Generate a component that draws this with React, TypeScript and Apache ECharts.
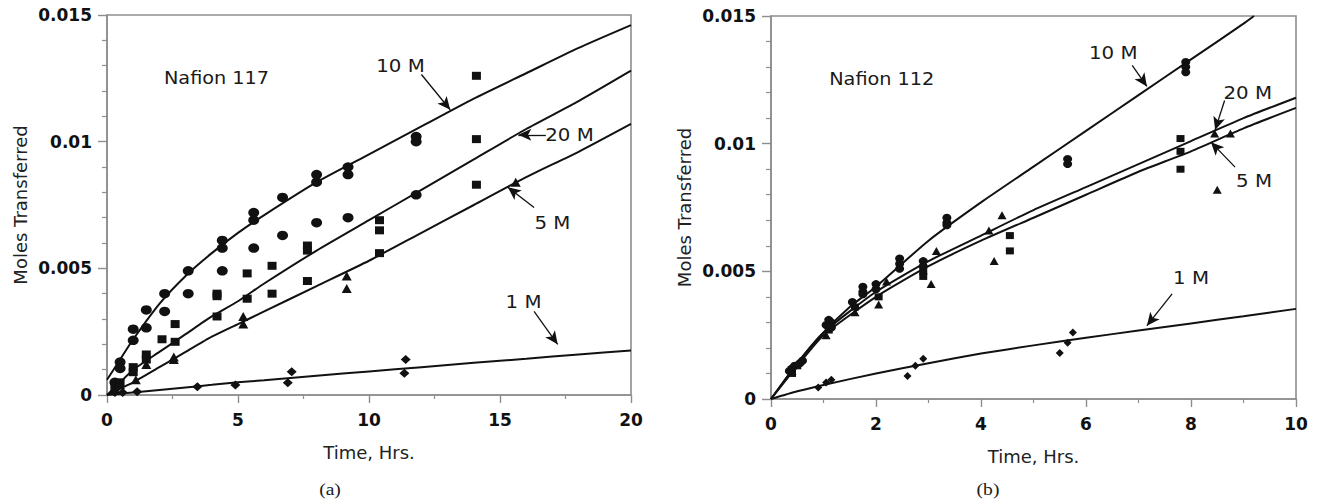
import React, { useEffect, useRef } from "react";
import * as echarts from "echarts";

// ---------- Chart (a): Nafion 117 ----------
const timeA = [0, 0.5, 1, 2, 3, 4, 5, 6, 8, 10, 12, 14, 16, 18, 20];
const fitA10M = [0.0006, 0.0014, 0.0022, 0.0036, 0.0047, 0.0056, 0.0064, 0.0071, 0.0084, 0.0095, 0.0106, 0.0117, 0.0127, 0.0137, 0.0146];
const fitA20M = [0, 0.0005, 0.001, 0.0017, 0.0024, 0.0031, 0.0037, 0.0044, 0.0057, 0.0069, 0.0081, 0.0093, 0.0105, 0.0116, 0.0128];
const fitA5M = [0, 0.00025, 0.0005, 0.0011, 0.0017, 0.0023, 0.0028, 0.0033, 0.0043, 0.0053, 0.0064, 0.0075, 0.0086, 0.0096, 0.0107];
const fitA1M = [0, 0.00005, 0.0001, 0.0002, 0.0003, 0.0004, 0.0005, 0.00058, 0.00076, 0.00093, 0.0011, 0.00127, 0.00143, 0.0016, 0.00176];

const circlesA = [
  [0.3, 0.0005], [0.5, 0.0013], [0.5, 0.00105], [1.0, 0.0026], [1.0, 0.00216], [1.5, 0.00336], [1.5, 0.00265],
  [2.2, 0.004], [2.2, 0.0033], [3.1, 0.0049], [4.4, 0.0061], [4.4, 0.0058], [5.6, 0.0072], [5.6, 0.0069],
  [6.7, 0.0078], [8.0, 0.0087], [8.0, 0.0084], [9.2, 0.009], [9.2, 0.0087], [11.8, 0.0102], [11.8, 0.01],
  [3.1, 0.004], [4.4, 0.0049], [5.6, 0.0058], [6.7, 0.0063], [8.0, 0.0068], [9.2, 0.007], [11.8, 0.0079],
];
const squaresA = [
  [0.3, 0.0003], [0.5, 0.0005], [1.0, 0.0011], [1.0, 0.0009], [1.5, 0.0016], [1.5, 0.0014], [2.1, 0.0022],
  [2.6, 0.0028], [2.6, 0.0021], [4.2, 0.004], [4.2, 0.0039], [4.2, 0.0031], [5.35, 0.0048], [5.35, 0.0038],
  [6.3, 0.0051], [6.3, 0.004], [7.65, 0.0059], [7.65, 0.0057], [7.65, 0.0045], [10.4, 0.0069], [10.4, 0.0065],
  [10.4, 0.0056], [14.1, 0.0126], [14.1, 0.0101], [14.1, 0.0083],
];
const trianglesA = [
  [0.3, 0.0002], [0.5, 0.0004], [1.1, 0.0006], [1.5, 0.0012], [2.55, 0.0015], [2.55, 0.0014],
  [5.2, 0.0031], [5.2, 0.0028], [9.15, 0.0047], [9.15, 0.0042], [15.6, 0.0084],
];
const diamondsA = [
  [0.3, 0.0001], [0.6, 0.0001], [1.15, 0.00013], [3.45, 0.00033], [4.9, 0.00039], [6.9, 0.00048],
  [7.05, 0.00092], [11.4, 0.0014], [11.35, 0.00086],
];

// ---------- Chart (b): Nafion 112 ----------
const timeB10 = [0, 0.5, 1, 1.5, 2, 3, 4, 5, 6, 7, 8, 9, 9.2];
const fitB10M = [0, 0.0014, 0.0026, 0.0036, 0.0044, 0.0062, 0.0077, 0.0091, 0.0105, 0.0119, 0.0133, 0.0147, 0.015];
const timeB = [0, 0.5, 1, 2, 3, 4, 5, 6, 7, 8, 9, 10];
const fitB20M = [0, 0.0014, 0.0026, 0.0042, 0.0054, 0.0064, 0.0074, 0.0083, 0.0092, 0.0101, 0.011, 0.0118];
const fitB5M = [0, 0.0013, 0.0025, 0.004, 0.0052, 0.0062, 0.0071, 0.008, 0.0089, 0.0097, 0.0106, 0.0114];
const fitB1M = [0, 0.0003, 0.00055, 0.001, 0.0014, 0.00178, 0.0021, 0.0024, 0.00268, 0.00296, 0.00324, 0.00353];

const circlesB = [
  [0.35, 0.0011], [0.4, 0.0012], [0.45, 0.0013], [0.55, 0.0014], [0.6, 0.0015], [1.05, 0.0029], [1.1, 0.0031],
  [1.15, 0.003], [1.15, 0.0028], [1.55, 0.0038], [1.75, 0.0044], [1.75, 0.0042], [1.75, 0.0041], [2.0, 0.0045],
  [2.0, 0.0043], [2.45, 0.0055], [2.45, 0.0053], [2.45, 0.0051], [2.9, 0.0054], [2.9, 0.0052], [3.35, 0.0071],
  [3.35, 0.0069], [3.35, 0.0068], [5.65, 0.0094], [5.65, 0.0092], [7.9, 0.0132], [7.9, 0.013], [7.9, 0.0128],
];
const squaresB = [
  [0.4, 0.001], [0.5, 0.0013], [1.1, 0.0027], [1.6, 0.0036], [2.05, 0.004], [2.9, 0.005], [2.9, 0.0048],
  [4.55, 0.0064], [4.55, 0.0058], [7.8, 0.0102], [7.8, 0.0097], [7.8, 0.009],
];
const trianglesB = [
  [0.4, 0.0011], [1.05, 0.0025], [1.6, 0.0034], [2.05, 0.0037], [2.2, 0.0046], [3.05, 0.0045], [3.15, 0.0058],
  [4.15, 0.0066], [4.25, 0.0054], [4.4, 0.0072], [8.45, 0.0104], [8.5, 0.0082], [8.75, 0.0104],
];
const diamondsB = [
  [0.9, 0.00045], [1.05, 0.00065], [1.15, 0.00075], [2.6, 0.0009], [2.75, 0.0013], [2.9, 0.00158],
  [5.5, 0.0018], [5.65, 0.0022], [5.75, 0.0026],
];

// ---------- Annotations (data coordinates) ----------
const curveLabels = ["10 M", "20 M", "5 M", "1 M"];
const labelPosA = [[11.2, 0.013], [17.65, 0.01027], [17.0, 0.0068], [15.9, 0.0037]];
const arrowsA = [
  [[12.0, 0.01265], [13.1, 0.01126]],
  [[16.75, 0.01027], [15.7, 0.01027]],
  [[16.3, 0.0074], [15.3, 0.0082]],
  [[16.3, 0.0033], [17.2, 0.002]],
];
const labelPosB = [[6.52, 0.01359], [9.08, 0.01202], [9.2, 0.00856], [8.0, 0.00477]];
const arrowsB = [
  [[6.88, 0.01307], [7.16, 0.01224]],
  [[8.64, 0.01169], [8.46, 0.01054]],
  [[8.84, 0.00908], [8.38, 0.01006]],
  [[7.64, 0.00412], [7.16, 0.00287]],
];
const membraneNames = ["Nafion 117", "Nafion 112"];
const membranePos = [[4.18, 0.01251], [2.11, 0.01253]];
const captions = ["(a)", "(b)"];

const yTicks = { min: 0, max: 0.015, interval: 0.005 };

const AXIS_COLOR = "#8e8e8e";
const INK = "#111";
const SANS = "DejaVu Sans";

const zip = (xs: number[], ys: number[]) => xs.map((x, i) => [x, ys[i]]);

function xAxisCfg(gi: number, max: number, interval: number) {
  return {
    type: "value",
    gridIndex: gi,
    min: 0,
    max,
    interval,
    name: "Time, Hrs.",
    nameLocation: "middle",
    nameGap: 48,
    nameTextStyle: { fontFamily: SANS, fontSize: 18, color: "#222" },
    axisLine: { show: true, onZero: false, lineStyle: { color: AXIS_COLOR, width: 1.6 } },
    axisTick: { show: true, length: 8, lineStyle: { color: AXIS_COLOR, width: 1.4 } },
    minorTick: { show: true, splitNumber: 2, length: 4, lineStyle: { color: AXIS_COLOR, width: 1.2 } },
    splitLine: { show: false },
    axisLabel: { margin: 16, fontFamily: SANS, fontWeight: "bold", fontSize: 17, color: INK },
  };
}

function yAxisCfg(gi: number) {
  return {
    type: "value",
    gridIndex: gi,
    min: yTicks.min,
    max: yTicks.max,
    interval: yTicks.interval,
    name: "Moles Transferred",
    nameLocation: "middle",
    nameGap: 78,
    nameTextStyle: { fontFamily: SANS, fontSize: 18, color: "#222" },
    axisLine: { show: true, onZero: false, lineStyle: { color: AXIS_COLOR, width: 1.6 } },
    axisTick: { show: true, length: 9, lineStyle: { color: AXIS_COLOR, width: 1.4 } },
    minorTick: { show: true, splitNumber: 5, length: 5, lineStyle: { color: AXIS_COLOR, width: 1.2 } },
    splitLine: { show: false },
    axisLabel: {
      margin: 15,
      fontFamily: SANS,
      fontWeight: "bold",
      fontSize: 17,
      color: INK,
      formatter: (v: number) => String(+v.toFixed(3)),
    },
  };
}

function fitLine(gi: number, name: string, xs: number[], ys: number[]) {
  return {
    type: "line",
    name,
    xAxisIndex: gi,
    yAxisIndex: gi,
    data: zip(xs, ys),
    showSymbol: false,
    smooth: 0.2,
    clip: true,
    silent: true,
    lineStyle: { color: INK, width: 2 },
    z: 2,
  };
}

function points(gi: number, name: string, data: number[][], symbol: string, size: number[]) {
  return {
    type: "scatter",
    name,
    xAxisIndex: gi,
    yAxisIndex: gi,
    data,
    symbol,
    symbolSize: size,
    silent: true,
    itemStyle: { color: INK, opacity: 1 },
    z: 3,
  };
}

function arrowSeries(gi: number, arrows: number[][][]) {
  return {
    type: "line",
    xAxisIndex: gi,
    yAxisIndex: gi,
    data: [],
    silent: true,
    markLine: {
      silent: true,
      symbol: ["none", "arrow"],
      symbolSize: [9, 13],
      label: { show: false },
      lineStyle: { type: "solid", color: INK, width: 1.3 },
      emphasis: { disabled: true },
      data: arrows.map((a) => [{ coord: a[0] }, { coord: a[1] }]),
    },
  };
}

export default function App() {
  const ref = useRef<HTMLDivElement>(null);

  useEffect(() => {
    document.body.style.margin = "0";
    const chart = echarts.init(ref.current!, null, { renderer: "svg" });
    const gridBase = { show: true, borderColor: AXIS_COLOR, borderWidth: 1.6, backgroundColor: "transparent" };
    chart.setOption({
      animation: false,
      backgroundColor: "#ffffff",
      grid: [
        { ...gridBase, left: 107, top: 15, width: 524, height: 380 },
        { ...gridBase, left: 771, top: 16, width: 525, height: 383 },
      ],
      xAxis: [xAxisCfg(0, 20, 5), xAxisCfg(1, 10, 2)],
      yAxis: [yAxisCfg(0), yAxisCfg(1)],
      series: [
        fitLine(0, "10 M", timeA, fitA10M),
        fitLine(0, "20 M", timeA, fitA20M),
        fitLine(0, "5 M", timeA, fitA5M),
        fitLine(0, "1 M", timeA, fitA1M),
        points(0, "circles", circlesA, "circle", [11, 9.5]),
        points(0, "squares", squaresA, "rect", [9, 8]),
        points(0, "triangles", trianglesA, "triangle", [10, 9]),
        points(0, "diamonds", diamondsA, "diamond", [10, 9]),
        arrowSeries(0, arrowsA),
        fitLine(1, "10 M", timeB10, fitB10M),
        fitLine(1, "20 M", timeB, fitB20M),
        fitLine(1, "5 M", timeB, fitB5M),
        fitLine(1, "1 M", timeB, fitB1M),
        points(1, "circles", circlesB, "circle", [9, 8]),
        points(1, "squares", squaresB, "rect", [8, 7]),
        points(1, "triangles", trianglesB, "triangle", [9, 8]),
        points(1, "diamonds", diamondsB, "diamond", [8, 8]),
        arrowSeries(1, arrowsB),
      ],
    });

    const toPx = (gi: number, p: number[]) => chart.convertToPixel({ gridIndex: gi }, p) as number[];
    const txt = (p: number[], text: string, font: string, sx: number) => ({
      type: "text",
      x: p[0],
      y: p[1],
      scaleX: sx,
      z: 10,
      silent: true,
      style: { text, font, fill: "#1a1a1a", align: "center", verticalAlign: "middle" },
    });
    const graphics: any[] = [];
    const labelFont = `18px "${SANS}"`;
    [labelPosA, labelPosB].forEach((positions, gi) => {
      positions.forEach((pos, i) => graphics.push(txt(toPx(gi, pos), curveLabels[i], labelFont, 1.1)));
      graphics.push(txt(toPx(gi, membranePos[gi]), membraneNames[gi], labelFont, 1.07));
    });
    const capX = [330, 988];
    captions.forEach((c, i) =>
      graphics.push(txt([capX[i], 489], c, `17px "Liberation Serif"`, 1.15))
    );
    chart.setOption({ graphic: graphics });

    return () => chart.dispose();
  }, []);

  return <div ref={ref} style={{ width: 1318, height: 504 }} />;
}
